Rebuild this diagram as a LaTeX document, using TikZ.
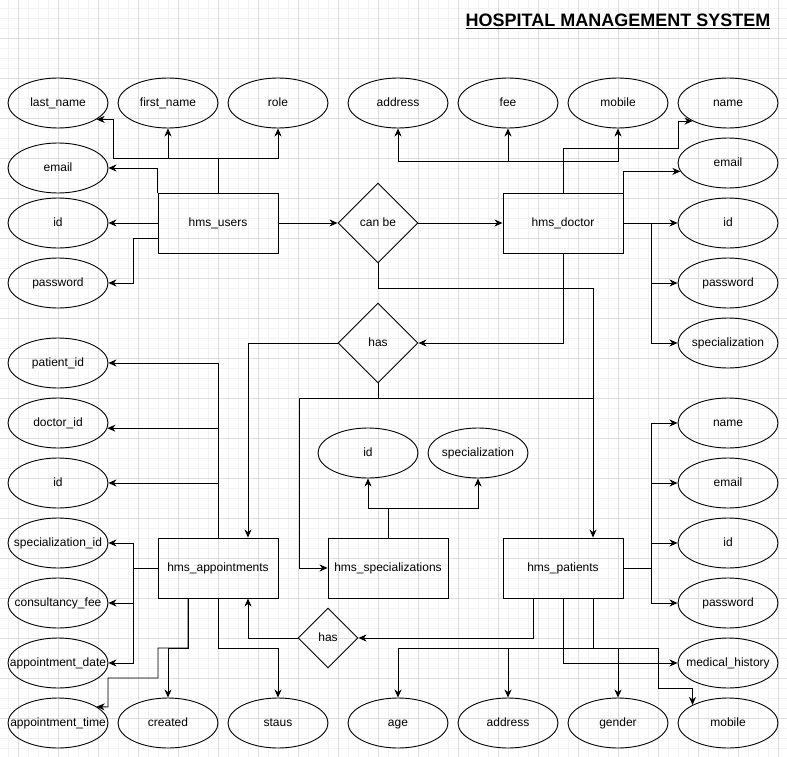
\documentclass[tikz,border=0pt]{standalone}
\usepackage{fontspec}
\setmainfont{Liberation Sans}
\usetikzlibrary{shapes.geometric,arrows.meta}
\newcommand\mz[1]{\makebox[0pt]{#1}}
\tikzset{
  attr/.style={ellipse,draw,line width=0.9pt,minimum width=100pt,minimum height=50pt,inner sep=0pt,text height=8.6pt,text depth=2.5pt,font=\fontsize{12}{14}\selectfont},
  ent/.style={rectangle,draw,line width=0.9pt,minimum width=120pt,minimum height=60pt,inner sep=0pt,text height=8.6pt,text depth=2.5pt,font=\fontsize{12}{14}\selectfont},
  rel/.style={diamond,draw,line width=0.9pt,minimum width=80pt,minimum height=80pt,inner sep=0pt,text height=8.6pt,text depth=2.5pt,font=\fontsize{12}{14}\selectfont},
  conn/.style={line width=0.9pt},
  arr/.style={conn,-{Stealth[length=8pt,width=7pt,inset=2.5pt]}},
  minorgrid/.style={draw=black!5,line width=0.6pt},
  majorgrid/.style={draw=black!13,line width=0.6pt}
}
\begin{document}
\begin{tikzpicture}[x=1pt,y=-1pt]
\fill[white] (0,0) rectangle (787,757);
\useasboundingbox (0,0) rectangle (787,757);
% grid
\foreach \x in {8,18,...,786} \draw[minorgrid] (\x,0) -- (\x,757);
\foreach \y in {8,18,...,756} \draw[minorgrid] (0,\y) -- (787,\y);
\foreach \x in {18,58,...,786} \draw[majorgrid] (\x,0) -- (\x,757);
\foreach \y in {38,78,...,756} \draw[majorgrid] (0,\y) -- (787,\y);

% title
\node[font=\bfseries\fontsize{18}{20}\selectfont] (title) at (618,21) {\underline{HOSPITAL MANAGEMENT SYSTEM}};

% users
\node[ent] (users) at (218,223) {hms\_users};
\node[attr] (ulast) at (58,103) {\mz{last\_name}};
\node[attr] (ufirst) at (168,103) {\mz{first\_name}};
\node[attr] (urole) at (278,103) {\mz{role}};
\node[attr] (uemail) at (58,168) {\mz{email}};
\node[attr] (uid) at (58,223) {\mz{id}};
\node[attr] (upass) at (58,283) {\mz{password}};

% relationships
\node[rel] (canbe) at (378,223) {\mz{can be}};
\node[rel] (has1) at (378,343) {\mz{has}};
\node[rel,minimum width=60pt,minimum height=60pt] (has2) at (328,638) {\mz{has}};

% doctor
\node[ent] (doctor) at (563,223) {hms\_doctor};
\node[attr] (daddr) at (398,103) {\mz{address}};
\node[attr] (dfee) at (508,103) {\mz{fee}};
\node[attr] (dmob) at (618,103) {\mz{mobile}};
\node[attr] (dname) at (728,103) {\mz{name}};
\node[attr] (demail) at (728,163) {\mz{email}};
\node[attr] (did) at (728,223) {\mz{id}};
\node[attr] (dpass) at (728,283) {\mz{password}};
\node[attr] (dspec) at (728,343) {\mz{specialization}};

% appointments
\node[ent] (appt) at (218,568) {hms\_appointments};
\node[attr] (apid) at (58,363) {\mz{patient\_id}};
\node[attr] (adid) at (58,423) {\mz{doctor\_id}};
\node[attr] (aid) at (58,483) {\mz{id}};
\node[attr] (asid) at (58,543) {\mz{specialization\_id}};
\node[attr] (afee) at (58,603) {\mz{consultancy\_fee}};
\node[attr] (adate) at (58,663) {\mz{appointment\_date}};
\node[attr] (atime) at (58,723) {\mz{appointment\_time}};
\node[attr] (acreated) at (168,723) {\mz{created}};
\node[attr] (astatus) at (278,723) {\mz{staus}};

% specializations
\node[ent] (spec) at (388,568) {hms\_specializations};
\node[attr] (sid) at (368,453) {\mz{id}};
\node[attr] (sspec) at (478,453) {\mz{specialization}};

% patients
\node[ent] (patients) at (563,568) {hms\_patients};
\node[attr] (pname) at (728,423) {\mz{name}};
\node[attr] (pemail) at (728,483) {\mz{email}};
\node[attr] (pid) at (728,543) {\mz{id}};
\node[attr] (ppass) at (728,603) {\mz{password}};
\node[attr] (pmed) at (728,663) {\mz{medical\_history}};
\node[attr] (pmob) at (728,723) {\mz{mobile}};
\node[attr] (page) at (398,723) {\mz{age}};
\node[attr] (paddr) at (508,723) {\mz{address}};
\node[attr] (pgender) at (618,723) {\mz{gender}};

% users connectors
\draw[arr] (users.north) |- (113,158) |- (ulast.-23);
\draw[arr] (users.north) |- (168,158) -- (ufirst.south);
\draw[arr] (users.north) |- (278,158) -- (urole.south);
\draw[arr] (users.north west) |- (uemail.east);
\draw[arr] (users.west) -- (uid.east);
\draw[arr] ([yshift=-15pt]users.west) -| (133,283) -- (upass.east);
\draw[arr] (users.east) -- (canbe.west);
\draw[arr] (canbe.east) -- (doctor.west);
\draw[arr] (canbe.south) |- (593,288) -- ([xshift=30pt]patients.north);

% doctor connectors
\draw[arr] (doctor.north) |- (398,161) -- (daddr.south);
\draw[arr] (doctor.north) |- (508,161) -- (dfee.south);
\draw[arr] (doctor.north) |- (618,161) -- (dmob.south);
\draw[arr] (doctor.north) |- (678,148) |- (dname.207);
\draw[arr] (doctor.north east) |- (demail.190);
\draw[arr] (doctor.east) -- (did.west);
\draw[arr] (doctor.east) -- (651,223) |- (dpass.west);
\draw[arr] (doctor.east) -- (651,223) |- (dspec.west);
\draw[arr] (doctor.south) |- (has1.east);

% has (upper)
\draw[arr] (has1.west) -| ([xshift=30pt]appt.north);
\draw[arr] (has1.south) |- (299,398) |- (spec.west);
\draw[conn] (has1.south) |- (593,398);

% specializations
\draw[arr] (spec.north) |- (368,508) -- (sid.south);
\draw[arr] (spec.north) |- (478,508) -- (sspec.south);

% appointments
\draw[arr] (appt.north) |- (apid.east);
\draw[arr] (appt.north) |- (adid.-6);
\draw[arr] (appt.north) |- (aid.east);
\draw[arr] (appt.west) -- (133,568) |- (asid.east);
\draw[arr] (appt.west) -- (133,568) |- (afee.east);
\draw[arr] (appt.west) -- (133,568) |- (adate.east);
\draw[arr] ([xshift=-30pt]appt.south) |- (168,648) -- (acreated.north);
\draw[arr] (appt.south) |- (278,648) -- (astatus.north);
\draw[arr] ([xshift=-30pt]appt.south) |- (158,648) -- (158,678) -| (108,707) -- (atime.23);

% has (lower)
\draw[arr] (has2.west) -| ([xshift=30pt]appt.south);
\draw[arr] ([xshift=-30pt]patients.south) |- (has2.east);

% patients
\draw[arr] (patients.east) -- (651,568) |- (pname.west);
\draw[arr] (patients.east) -- (651,568) |- (pemail.west);
\draw[arr] (patients.east) -- (651,568) |- (pid.west);
\draw[arr] (patients.east) -- (651,568) |- (ppass.west);
\draw[arr] (patients.south) |- (pmed.west);
\draw[arr] ([xshift=30pt]patients.south) |- (398,648) -- (page.north);
\draw[arr] ([xshift=30pt]patients.south) |- (508,648) -- (paddr.north);
\draw[arr] ([xshift=30pt]patients.south) |- (618,648) -- (pgender.north);
\draw[arr] ([xshift=30pt]patients.south) |- (658,648) -- (658,688) -| (pmob.153);
\end{tikzpicture}
\end{document}
